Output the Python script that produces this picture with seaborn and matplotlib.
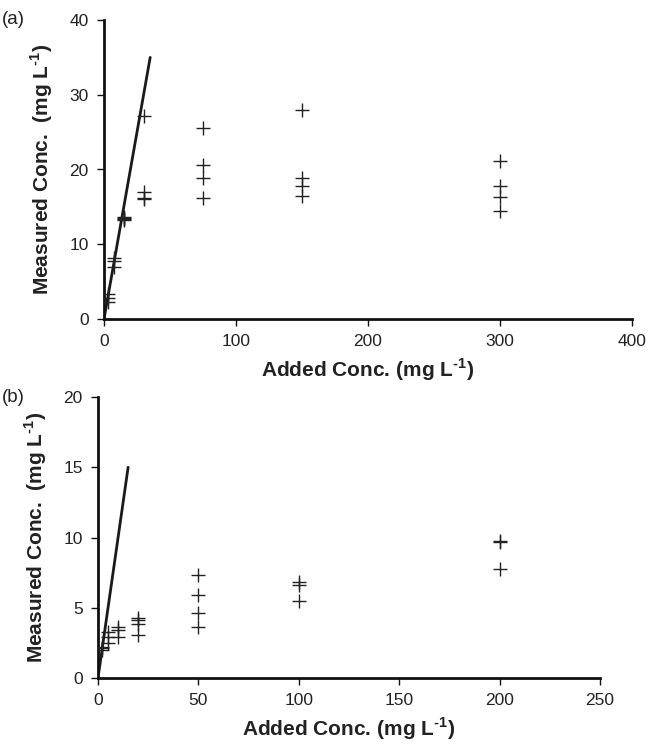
import matplotlib
matplotlib.use("Agg")
import matplotlib.pyplot as plt
import seaborn as sns
import pandas as pd

# Panel (a) data
a_added = [3, 3, 3, 7.5, 7.5, 7.5, 15, 15, 15, 15, 30, 30, 30, 30, 75, 75, 75, 75, 150, 150, 150, 150, 300, 300, 300, 300]
a_meas = [3.3, 2.8, 2.3, 8.1, 7.8, 7.0, 13.6, 13.4, 13.5, 13.3, 27.2, 17.0, 16.2, 16.0, 25.6, 20.6, 18.9, 16.2, 28.0, 18.9, 17.8, 16.4, 21.1, 17.8, 16.3, 14.4]
a_line_x = [0, 35]
a_line_y = [0, 35]

# Panel (b) data
b_added = [2, 2, 2, 5, 5, 5, 10, 10, 10, 20, 20, 20, 20, 50, 50, 50, 50, 100, 100, 100, 200, 200, 200]
b_meas = [2.2, 2.1, 2.0, 3.3, 2.9, 2.5, 3.6, 3.4, 2.95, 4.3, 4.15, 3.85, 3.05, 7.35, 5.9, 4.65, 3.65, 6.8, 6.65, 5.5, 9.75, 9.65, 7.75]
b_line_x = [0, 15]
b_line_y = [0, 15]

a_xticks = [0, 100, 200, 300, 400]
a_yticks = [0, 10, 20, 30, 40]
b_xticks = [0, 50, 100, 150, 200, 250]
b_yticks = [0, 5, 10, 15, 20]

sns.set_theme(style="white")
plt.rcParams['font.family'] = ['Liberation Sans', 'DejaVu Sans']
plt.rcParams['mathtext.fontset'] = 'custom'
plt.rcParams['mathtext.rm'] = 'Liberation Sans'
plt.rcParams['mathtext.bf'] = 'Liberation Sans:bold'

fig = plt.figure(figsize=(6.49, 7.44), dpi=100)
ax1 = fig.add_axes([104/649, 1-319/744, 528/649, 299/744])
ax2 = fig.add_axes([98/649, 1-678/744, 502/649, 281/744])

dfa = pd.DataFrame({"x": a_added, "y": a_meas})
dfb = pd.DataFrame({"x": b_added, "y": b_meas})

xlabel = "Added Conc. (mg L$^{\\mathbf{\u2010}\\mathbf{1}}$)"
ylabel = "Measured Conc.  (mg L$^{\\mathbf{\u2010}\\mathbf{1}}$)"

for ax, df, lx, ly, xt, yt in [
    (ax1, dfa, a_line_x, a_line_y, a_xticks, a_yticks),
    (ax2, dfb, b_line_x, b_line_y, b_xticks, b_yticks),
]:
    sns.lineplot(x=lx, y=ly, ax=ax, color="#1a1a1a", linewidth=2)
    sns.scatterplot(data=df, x="x", y="y", ax=ax, marker="+", s=110,
                    color="#222222", linewidth=1.0, zorder=3)
    ax.set_xlim(xt[0], xt[-1])
    ax.set_ylim(yt[0], yt[-1])
    ax.set_xticks(xt)
    ax.set_yticks(yt)
    for s in ["top", "right"]:
        ax.spines[s].set_visible(False)
    for s in ["left", "bottom"]:
        ax.spines[s].set_color("#111111")
        ax.spines[s].set_linewidth(2)
    ax.tick_params(axis="both", direction="out", length=5, width=1, color="#111111",
                   labelsize=12.5, labelcolor="#222222", bottom=True, left=True, pad=6)
    ax.set_xlabel(xlabel, fontsize=15, fontweight="bold", color="#222222", labelpad=5)
    ax.set_ylabel(ylabel, fontsize=15, fontweight="bold", color="#222222", labelpad=10)
    ax.grid(False)

fig.text(2/649, 1-20/744, "(a)", fontsize=13.5, color="#222222", va="center", ha="left")
fig.text(2/649, 1-398/744, "(b)", fontsize=13.5, color="#222222", va="center", ha="left")

fig.savefig("out.png", dpi=100)
